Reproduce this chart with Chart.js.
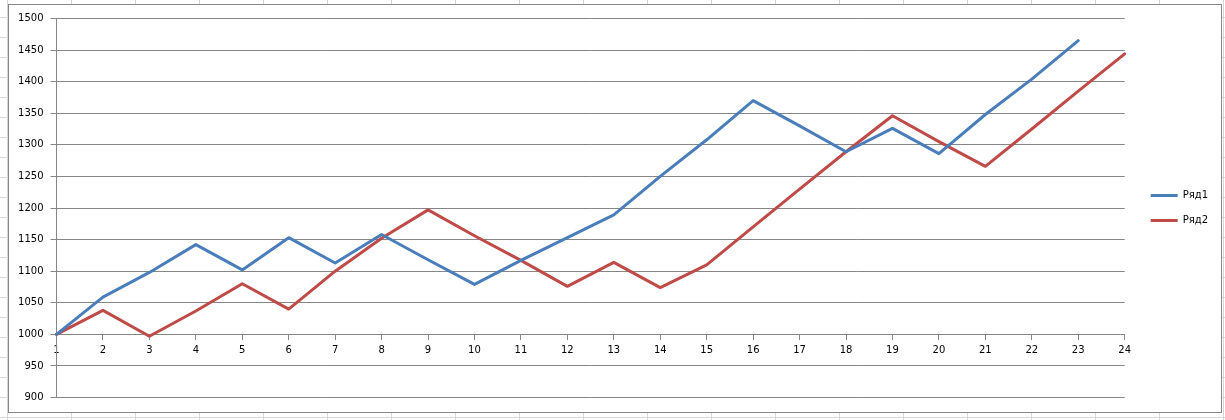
<!DOCTYPE html>
<html>
<head>
<meta charset="utf-8">
<script src="https://cdn.jsdelivr.net/npm/chart.js@4/dist/chart.umd.min.js"></script>
<style>
  html, body { margin: 0; padding: 0; }
  body {
    width: 1225px; height: 420px; overflow: hidden; position: relative;
    background-color: #ffffff;
    background-image:
      linear-gradient(to right, #d6d6d6 1px, transparent 1px),
      linear-gradient(to bottom, #d6d6d6 1px, transparent 1px);
    background-size: 64px 20px, 64px 20px;
    background-position: 7px 0, 0 17px;
  }
  #frame {
    position: absolute; left: 8px; top: 4px; width: 1214px; height: 409px;
    box-sizing: border-box; border: 1px solid #868686; background: #ffffff;
  }
  #c { position: absolute; left: 0; top: 0; }
</style>
</head>
<body>
<div id="frame"><canvas id="c" width="1212" height="407"></canvas></div>
<script>
const categories = ['1','2','3','4','5','6','7','8','9','10','11','12','13','14','15','16','17','18','19','20','21','22','23','24'];
const seriesNames = ['Ряд1', 'Ряд2'];
const series1 = [1000, 1059, 1098, 1142, 1102, 1153, 1113, 1158, 1118, 1079, 1117, 1153, 1189, 1250, 1308, 1370, 1330, 1289, 1326, 1286, 1348, 1404, 1465, null];
const series2 = [1000, 1038, 997, 1037, 1080, 1040, 1100, 1152, 1197, 1156, 1117, 1076, 1114, 1074, 1110, 1170, 1230, 1289, 1346, 1305, 1266, 1325, 1385, 1444];
const yTickValues = [900, 950, 1000, 1050, 1100, 1150, 1200, 1250, 1300, 1350, 1400, 1450, 1500];

const AXIS_GRAY = '#868686';
const FONT = { family: 'DejaVu Sans', size: 10 };

new Chart(document.getElementById('c'), {
  type: 'line',
  data: {
    labels: categories,
    datasets: [
      { label: seriesNames[0], data: series1, borderColor: '#4A7EBB', backgroundColor: '#4A7EBB',
        borderWidth: 3, pointRadius: 0, pointHoverRadius: 0, tension: 0, fill: false,
        borderJoinStyle: 'round', borderCapStyle: 'round' },
      { label: seriesNames[1], data: series2, borderColor: '#BE4B48', backgroundColor: '#BE4B48',
        borderWidth: 3, pointRadius: 0, pointHoverRadius: 0, tension: 0, fill: false,
        borderJoinStyle: 'round', borderCapStyle: 'round' }
    ]
  },
  options: {
    responsive: false,
    animation: false,
    devicePixelRatio: 1,
    layout: { padding: { left: 0, top: 13.5, bottom: 14.5, right: 3 } },
    plugins: {
      tooltip: { enabled: false },
      legend: {
        position: 'right',
        align: 'center',
        labels: {
          font: FONT,
          color: '#000000',
          boxWidth: 27,
          boxHeight: 3,
          padding: 15,
          generateLabels: (chart) => Chart.defaults.plugins.legend.labels.generateLabels(chart)
            .map(l => Object.assign(l, { lineWidth: 0 }))
        }
      }
    },
    scales: {
      x: {
        type: 'category',
        position: { y: 1000 },
        offset: false,
        grid: { display: true, drawOnChartArea: false, drawTicks: true, tickLength: 5, color: AXIS_GRAY },
        border: { display: true, color: AXIS_GRAY, width: 1 },
        ticks: { font: FONT, color: '#000000', autoSkip: false, maxRotation: 0, padding: 5 }
      },
      y: {
        type: 'linear',
        position: 'left',
        min: 900,
        max: 1500,
        afterBuildTicks: (s) => { s.ticks = yTickValues.map(v => ({ value: v })); },
        afterFit: (s) => { s.width = 47.5; },
        grid: { display: true, drawOnChartArea: true, drawTicks: true, tickLength: 6, color: AXIS_GRAY },
        border: { display: true, color: AXIS_GRAY, width: 1 },
        ticks: { font: FONT, color: '#000000', padding: 7, callback: (v) => String(v) }
      },
      gap: {
        type: 'linear',
        position: 'right',
        display: true,
        grid: { display: false, drawTicks: false },
        border: { display: false },
        ticks: { display: false },
        afterFit: (s) => { s.width = 11; }
      }
    }
  }
});
</script>
</body>
</html>
